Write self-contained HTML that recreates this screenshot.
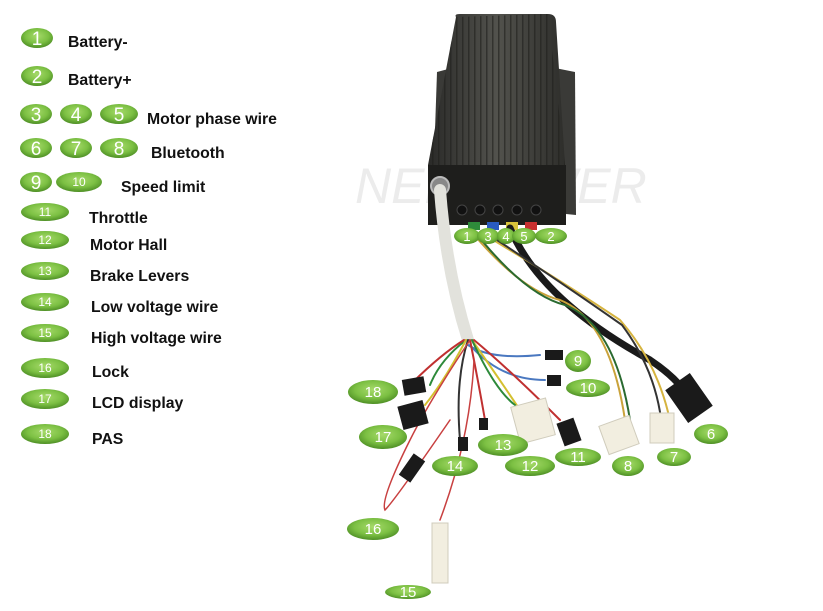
<!DOCTYPE html>
<html><head><meta charset="utf-8"><style>
html,body{margin:0;padding:0;background:#fff;}
svg{display:block;}
.l{font-family:"Liberation Sans",sans-serif;font-weight:bold;font-size:15.8px;fill:#111;}
.n{font-family:"Liberation Sans",sans-serif;fill:#fff;text-anchor:middle;}
</style></head><body>
<svg width="823" height="611" viewBox="0 0 823 611" xmlns="http://www.w3.org/2000/svg">
<defs>
<radialGradient id="g" cx="50%" cy="40%" r="60%">
<stop offset="0" stop-color="#a6da6a"/><stop offset="0.6" stop-color="#7cc043"/><stop offset="1" stop-color="#4e8f25"/>
</radialGradient>
<linearGradient id="box" x1="0" x2="1">
<stop offset="0" stop-color="#2a2a28"/><stop offset="0.5" stop-color="#52524d"/><stop offset="1" stop-color="#2e2e2b"/>
</linearGradient>
<pattern id="fins" width="6" height="10" patternUnits="userSpaceOnUse">
<rect x="0" width="1.5" height="10" fill="#1f1f1d" opacity="0.6"/>
</pattern>
</defs>

<text x="355" y="203" font-family="Liberation Sans,sans-serif" font-style="italic" font-size="50" fill="#ececec">NEBPOWER</text>

<path d="M437 72 L452 68 L452 215 L432 218 Z" fill="#3a3a37"/>
<path d="M555 68 L575 72 L576 215 L556 213 Z" fill="#3a3a37"/>
<path d="M456 17 Q454 14 460 14 L548 14 Q556 14 556 22 L565 165 L428 165 Z" fill="url(#box)"/>
<path d="M456 17 L548 14 L565 165 L428 165 Z" fill="url(#fins)"/>
<rect x="428" y="165" width="138" height="60" fill="#1e1e1c"/>
<g fill="#111" stroke="#444">
<circle cx="462" cy="210" r="5"/><circle cx="480" cy="210" r="5"/><circle cx="498" cy="210" r="5"/><circle cx="517" cy="210" r="5"/><circle cx="536" cy="210" r="5"/>
</g>
<rect x="468" y="222" width="12" height="8" fill="#2e8b3a"/>
<rect x="487" y="222" width="12" height="8" fill="#2a5bc0"/>
<rect x="506" y="222" width="12" height="8" fill="#d8c23a"/>
<rect x="525" y="222" width="12" height="8" fill="#c83030"/>
<circle cx="440" cy="186" r="9" fill="#888" stroke="#bbb" stroke-width="2"/>

<g fill="none" stroke-linecap="round">
<path d="M440 190 Q446 270 468 340" stroke="#e2e2dc" stroke-width="12"/>
<path d="M510 228 Q540 300 650 360 Q680 380 690 400" stroke="#1a1a1a" stroke-width="7"/>
<path d="M470 230 Q520 290 560 300 Q610 320 625 420" stroke="#c9a23a" stroke-width="2"/>
<path d="M475 232 Q525 295 565 305 Q615 325 630 420" stroke="#2a6a30" stroke-width="2"/>
<path d="M480 232 Q560 280 620 320 Q655 360 668 412" stroke="#d6b440" stroke-width="2"/>
<path d="M485 232 Q565 285 622 325 Q652 365 660 412" stroke="#333" stroke-width="2"/>
<path d="M468 345 Q490 360 540 355" stroke="#4a78c0" stroke-width="2"/>
<path d="M470 345 Q500 380 545 380" stroke="#4a78c0" stroke-width="2"/>
<path d="M466 340 Q440 360 430 385" stroke="#2d8a3a" stroke-width="2"/>
<path d="M464 340 Q440 355 410 385" stroke="#c03030" stroke-width="2"/>
<path d="M466 340 Q445 380 425 405" stroke="#d4c030" stroke-width="2"/>
<path d="M468 340 Q455 380 460 440" stroke="#333" stroke-width="2"/>
<path d="M470 340 Q478 380 485 420" stroke="#c03030" stroke-width="2"/>
<path d="M472 340 Q500 380 520 410" stroke="#d4c030" stroke-width="2"/>
<path d="M474 340 Q510 370 560 420" stroke="#c03030" stroke-width="2"/>
<path d="M472 340 Q495 390 515 405" stroke="#2d8a3a" stroke-width="2"/>
<path d="M470 340 Q430 400 410 440 Q380 500 385 510 Q395 500 450 420" stroke="#c84040" stroke-width="1.5"/>
<path d="M474 360 Q470 440 440 520" stroke="#c84040" stroke-width="1.5"/>
</g>
<g fill="#1a1a1a">
<rect x="403" y="378" width="22" height="16" transform="rotate(-10 414 386)"/>
<rect x="400" y="403" width="26" height="24" transform="rotate(-15 413 415)"/>
<rect x="545" y="350" width="18" height="10"/>
<rect x="547" y="375" width="14" height="11"/>
<rect x="458" y="437" width="10" height="14"/>
<rect x="479" y="418" width="9" height="12"/>
<rect x="560" y="420" width="18" height="24" transform="rotate(-20 569 432)"/>
<rect x="405" y="455" width="14" height="26" transform="rotate(35 412 468)"/>
<rect x="674" y="378" width="30" height="40" transform="rotate(-35 689 398)"/>
</g>
<g fill="#f2eee0" stroke="#d0ccbc">
<rect x="515" y="402" width="36" height="38" transform="rotate(-15 533 421)"/>
<rect x="603" y="420" width="32" height="30" transform="rotate(-20 619 435)"/>
<rect x="650" y="413" width="24" height="30"/>
<rect x="432" y="523" width="16" height="60"/>
</g>

<g>
<ellipse cx="37" cy="38" rx="16" ry="10" fill="url(#g)"/>
<ellipse cx="37" cy="76" rx="16" ry="10" fill="url(#g)"/>
<ellipse cx="36" cy="114" rx="16" ry="10" fill="url(#g)"/>
<ellipse cx="76" cy="114" rx="16" ry="10" fill="url(#g)"/>
<ellipse cx="119" cy="114" rx="19" ry="10" fill="url(#g)"/>
<ellipse cx="36" cy="148" rx="16" ry="10" fill="url(#g)"/>
<ellipse cx="76" cy="148" rx="16" ry="10" fill="url(#g)"/>
<ellipse cx="119" cy="148" rx="19" ry="10" fill="url(#g)"/>
<ellipse cx="36" cy="182" rx="16" ry="10" fill="url(#g)"/>
<ellipse cx="79" cy="182" rx="23" ry="10" fill="url(#g)"/>
<ellipse cx="45" cy="212" rx="24" ry="9" fill="url(#g)"/>
<ellipse cx="45" cy="240" rx="24" ry="9" fill="url(#g)"/>
<ellipse cx="45" cy="271" rx="24" ry="9" fill="url(#g)"/>
<ellipse cx="45" cy="302" rx="24" ry="9" fill="url(#g)"/>
<ellipse cx="45" cy="333" rx="24" ry="9" fill="url(#g)"/>
<ellipse cx="45" cy="368" rx="24" ry="10" fill="url(#g)"/>
<ellipse cx="45" cy="399" rx="24" ry="10" fill="url(#g)"/>
<ellipse cx="45" cy="434" rx="24" ry="10" fill="url(#g)"/>
<ellipse cx="467" cy="236" rx="13" ry="8" fill="url(#g)"/>
<ellipse cx="488" cy="236" rx="11" ry="8" fill="url(#g)"/>
<ellipse cx="506" cy="236" rx="9" ry="8" fill="url(#g)"/>
<ellipse cx="524" cy="236" rx="12" ry="8" fill="url(#g)"/>
<ellipse cx="551" cy="236" rx="16" ry="8" fill="url(#g)"/>
<ellipse cx="373" cy="392" rx="25" ry="12" fill="url(#g)"/>
<ellipse cx="383" cy="437" rx="24" ry="12" fill="url(#g)"/>
<ellipse cx="503" cy="445" rx="25" ry="11" fill="url(#g)"/>
<ellipse cx="455" cy="466" rx="23" ry="10" fill="url(#g)"/>
<ellipse cx="530" cy="466" rx="25" ry="10" fill="url(#g)"/>
<ellipse cx="578" cy="457" rx="23" ry="9" fill="url(#g)"/>
<ellipse cx="628" cy="466" rx="16" ry="10" fill="url(#g)"/>
<ellipse cx="674" cy="457" rx="17" ry="9" fill="url(#g)"/>
<ellipse cx="711" cy="434" rx="17" ry="10" fill="url(#g)"/>
<ellipse cx="578" cy="361" rx="13" ry="11" fill="url(#g)"/>
<ellipse cx="588" cy="388" rx="22" ry="9" fill="url(#g)"/>
<ellipse cx="373" cy="529" rx="26" ry="11" fill="url(#g)"/>
<ellipse cx="408" cy="592" rx="23" ry="7" fill="url(#g)"/>
</g>
<g class="n" font-size="19">
<text x="37" y="45">1</text><text x="37" y="83">2</text>
<text x="36" y="121">3</text><text x="76" y="121">4</text><text x="119" y="121">5</text>
<text x="36" y="155">6</text><text x="76" y="155">7</text><text x="119" y="155">8</text>
<text x="36" y="189">9</text>
</g>
<g class="n" font-size="12">
<text x="79" y="186">10</text><text x="45" y="216">11</text><text x="45" y="244">12</text>
<text x="45" y="275">13</text><text x="45" y="306">14</text><text x="45" y="337">15</text>
<text x="45" y="372">16</text><text x="45" y="403">17</text><text x="45" y="438">18</text>
</g>
<g class="n" font-size="13">
<text x="467" y="241">1</text><text x="488" y="241">3</text><text x="506" y="241">4</text><text x="524" y="241">5</text><text x="551" y="241">2</text>
</g>
<g class="n" font-size="15">
<text x="373" y="397">18</text><text x="383" y="442">17</text><text x="503" y="450">13</text>
<text x="455" y="471">14</text><text x="530" y="471">12</text><text x="578" y="462">11</text>
<text x="628" y="471">8</text><text x="674" y="462">7</text><text x="711" y="439">6</text>
<text x="578" y="366">9</text><text x="588" y="393">10</text><text x="373" y="534">16</text>
<text x="408" y="597">15</text>
</g>

<text class="l" x="68" y="47">Battery-</text>
<text class="l" x="68" y="85">Battery+</text>
<text class="l" x="147" y="124">Motor phase wire</text>
<text class="l" x="151" y="158">Bluetooth</text>
<text class="l" x="121" y="192">Speed limit</text>
<text class="l" x="89" y="223">Throttle</text>
<text class="l" x="90" y="250">Motor Hall</text>
<text class="l" x="90" y="281">Brake Levers</text>
<text class="l" x="91" y="312">Low voltage wire</text>
<text class="l" x="91" y="343">High voltage wire</text>
<text class="l" x="92" y="377">Lock</text>
<text class="l" x="92" y="408">LCD display</text>
<text class="l" x="92" y="444">PAS</text>
</svg>
</body></html>
